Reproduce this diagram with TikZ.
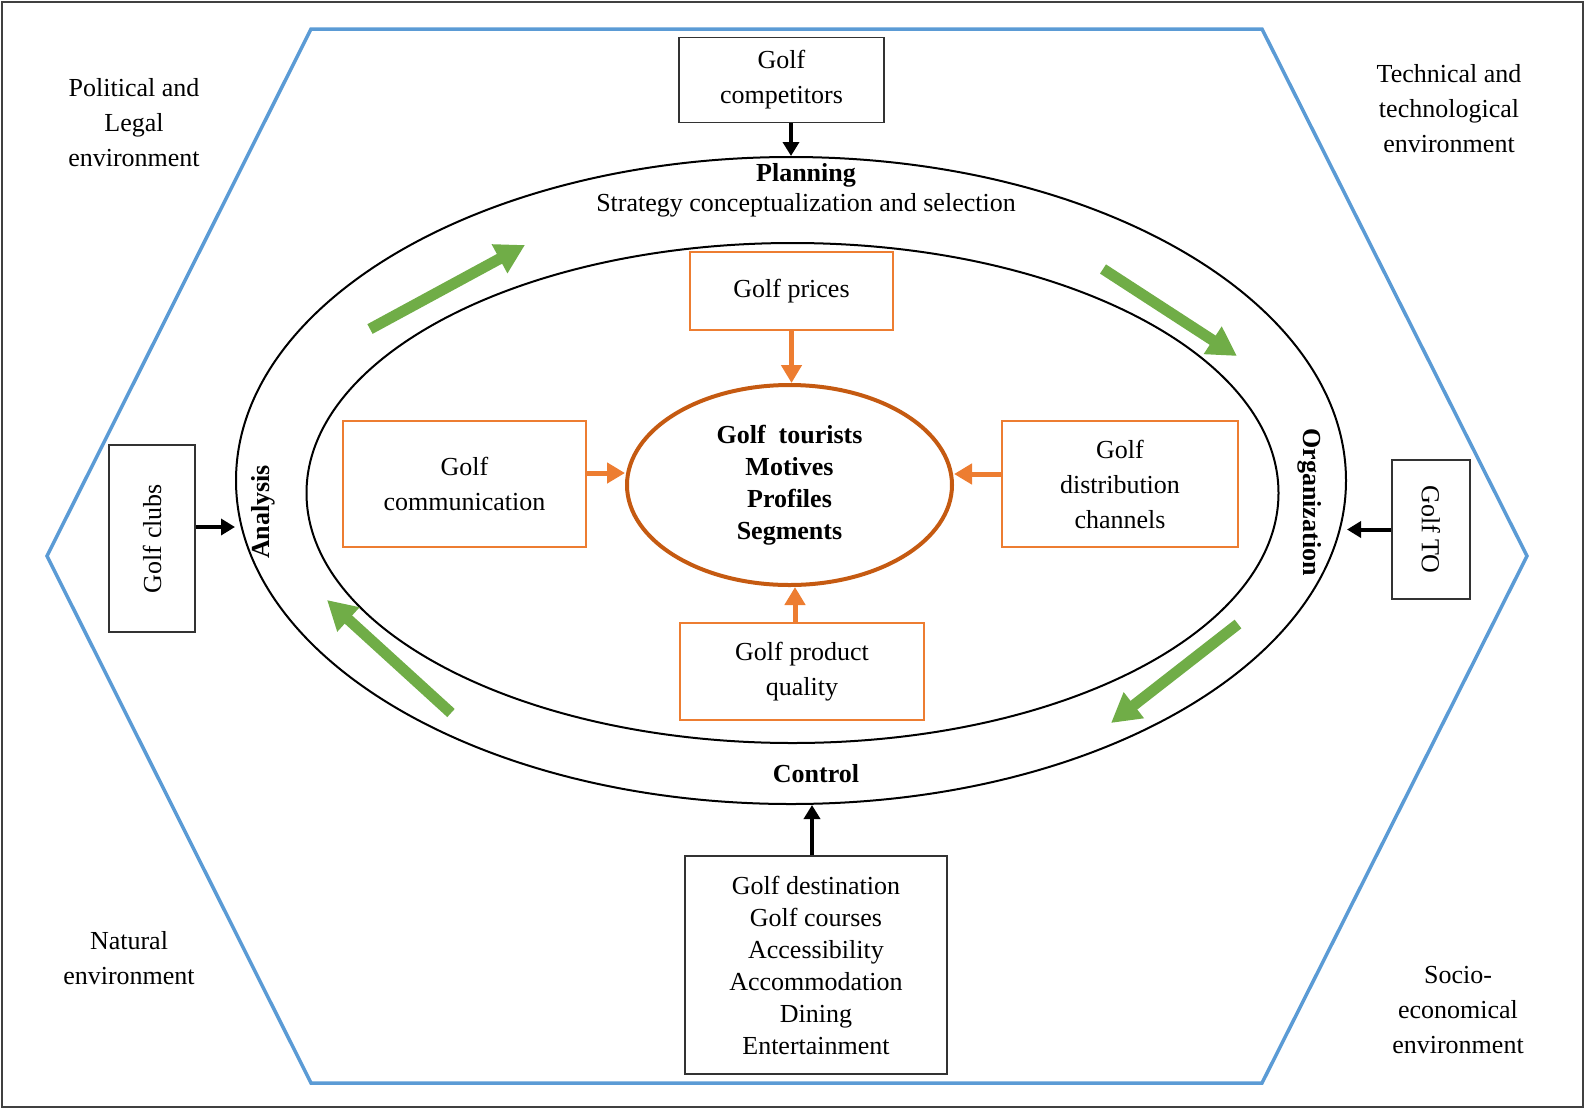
\documentclass[tikz,border=0pt]{standalone}
\usepackage{fontspec}
\usepackage{graphicx}
\setmainfont{Liberation Serif}
\usetikzlibrary{positioning, arrows.meta, shapes.geometric}

\definecolor{hexblue}{RGB}{91,155,213}
\definecolor{boxorange}{RGB}{237,125,49}
\definecolor{coreorange}{RGB}{197,90,17}
\definecolor{cyclegreen}{RGB}{112,173,71}

\begin{document}
\begin{tikzpicture}[
        x=0.5pt, y=-0.5pt,
        font=\fontsize{13}{17.5}\selectfont,
        % Styles
        blackbox/.style={rectangle, draw=black!80, line width=0.8pt, align=center, inner sep=2pt},
        orangebox/.style={rectangle, draw=boxorange, line width=1pt, align=center, inner sep=2pt},
        ring/.style={ellipse, draw, line width=1pt, inner sep=0pt},
        core/.style={ellipse, draw=coreorange, line width=2pt, align=center, inner sep=0pt,
                font=\fontsize{13}{16}\selectfont\bfseries},
        envlabel/.style={align=center},
        phase/.style={font=\fontsize{13}{17}\selectfont\bfseries},
        blackarrow/.style={-{Triangle[length=7pt, width=8pt]}, line width=2pt},
        orangearrow/.style={-{Triangle[length=9pt, width=10pt]}, draw=boxorange, line width=2.5pt},
        greenarrow/.style={-{Triangle[length=14.5pt, width=15.5pt]}, draw=cyclegreen, line width=5.5pt},
        ]

        \useasboundingbox (0,0) rectangle (1585,1109);

        % === FRAME AND ENVIRONMENT ===
        \draw[black!75, line width=1pt] (2,2) rectangle (1583,1107);
        \draw[hexblue, line width=1.75pt] (311,29) -- (1262,29) -- (1527,556)
            -- (1262,1083) -- (311,1083) -- (47,556) -- cycle;

        \node[envlabel] (political) at (134,123) {Political and\\Legal\\environment};
        \node[envlabel] (technical) at (1449,109) {Technical and\\technological\\environment};
        \node[envlabel] (natural) at (129,958) {Natural\\environment};
        \node[envlabel] (socio) at (1458,1010) {Socio-\\economical\\environment};

        % === RINGS ===
        \node[ring, minimum width=555pt, minimum height=323.5pt] (outer) at (791,480.5) {};
        \node[ring, minimum width=486pt, minimum height=250pt] (inner) at (792.5,493) {};
        \node[core, minimum width=162.5pt, minimum height=100pt] (tourists) at (789.5,485)
            {Golf\ \ tourists\\Motives\\Profiles\\Segments};

        % Phase labels
        \node[phase] (planning) at (806,175) {Planning};
        \node (strategy) at (806,205) {Strategy conceptualization and selection};
        \node[phase] (control) at (816,774) {Control};
        \node[phase, rotate=90] (analysis) at (263,512) {Analysis};
        \node[phase, rotate=-90] (organization) at (1310,502) {Organization};

        % === OUTER ACTORS ===
        \node[blackbox, minimum width=102.5pt, minimum height=42.5pt] (competitors) at (781.5,80) {Golf\\competitors};
        \node[blackbox, minimum width=43pt, minimum height=93.5pt] (clubs) at (152,538.5) {\rotatebox{90}{Golf clubs}};
        \node[blackbox, minimum width=39pt, minimum height=69.5pt] (operator) at (1431,529.5) {\rotatebox{-90}{Golf TO}};
        \node[blackbox, minimum width=131pt, minimum height=109pt, font=\fontsize{13}{16}\selectfont] (destination) at (816,965)
            {Golf destination\\Golf courses\\Accessibility\\Accommodation\\Dining\\Entertainment};

        \draw[blackarrow] (competitors.south -| outer.north) -- (outer.north);
        \draw[blackarrow] ([yshift=5.75pt]clubs.east) -- ([yshift=5.75pt]clubs.east -| outer.west);
        \draw[blackarrow] (operator.west) -- (operator.west -| outer.east);
        \draw[blackarrow] ([xshift=-2pt]destination.north) -- ([xshift=-2pt]destination.north |- outer.south);

        % === MARKETING MIX ===
        \node[orangebox, minimum width=101.5pt, minimum height=39pt] (prices) at (791.5,291) {Golf prices};
        \node[orangebox, minimum width=121.5pt, minimum height=63pt] (communication) at (464.5,484) {Golf\\communication};
        \node[orangebox, minimum width=118pt, minimum height=63pt] (distribution) at (1120,484) {Golf\\distribution\\channels};
        \node[orangebox, minimum width=122pt, minimum height=48.5pt] (quality) at (802,671.5) {Golf product\\quality};

        \draw[orangearrow] (prices.south) -- (prices.south |- tourists.north);
        \draw[orangearrow] ([yshift=5.5pt]communication.east) -- ([yshift=5.5pt]communication.east -| tourists.west);
        \draw[orangearrow] ([yshift=5pt]distribution.west) -- ([yshift=5pt]distribution.west -| tourists.east);
        \draw[orangearrow] ([xshift=-3.5pt]quality.north) -- ([xshift=-3.5pt]quality.north |- tourists.south);

        % === MANAGEMENT CYCLE ===
        \coordinate (cyc1a) at (370,329);
        \coordinate (cyc1b) at (525,245);
        \coordinate (cyc2a) at (1103,269);
        \coordinate (cyc2b) at (1237,356);
        \coordinate (cyc3a) at (1238,624);
        \coordinate (cyc3b) at (1111,723);
        \coordinate (cyc4a) at (451,713);
        \coordinate (cyc4b) at (327,600);

        \draw[greenarrow] (cyc1a) -- (cyc1b);
        \draw[greenarrow] (cyc2a) -- (cyc2b);
        \draw[greenarrow] (cyc3a) -- (cyc3b);
        \draw[greenarrow] (cyc4a) -- (cyc4b);

    \end{tikzpicture}
\end{document}
